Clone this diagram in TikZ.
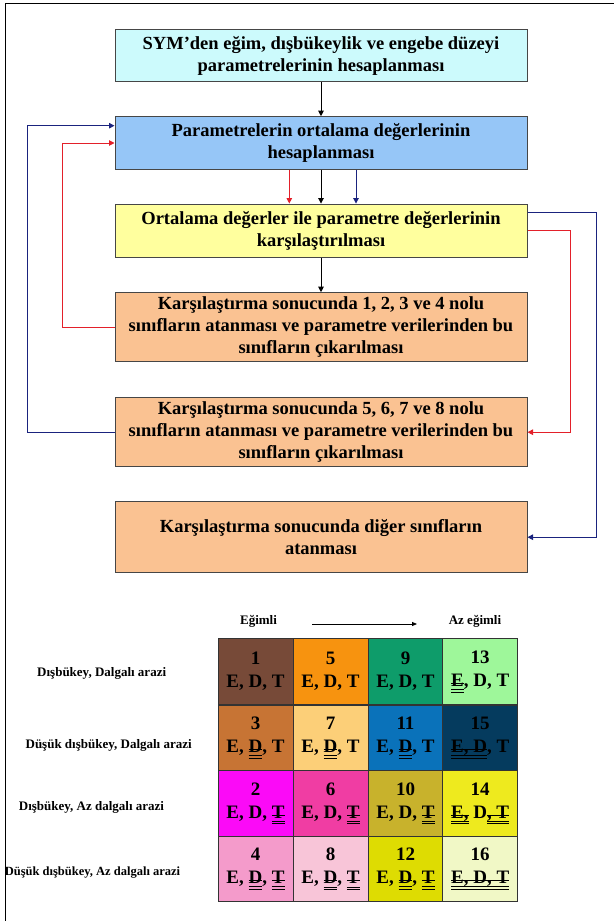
\documentclass[tikz,border=0pt]{standalone}
\usepackage{fontspec}
\setmainfont{Liberation Serif}
\usetikzlibrary{arrows.meta}
\newcommand{\sx}[1]{\setbox0\hbox{#1}\rlap{\rule[0.32ex]{\wd0}{0.09ex}}\rlap{\rule[-0.35ex]{\wd0}{0.06ex}}\rlap{\rule[-0.62ex]{\wd0}{0.06ex}}\box0\relax}
\definecolor{bcyan}{HTML}{CCFAFC}
\definecolor{bblue}{HTML}{96C6F7}
\definecolor{byel}{HTML}{FFFF9E}
\definecolor{bpeach}{HTML}{FAC292}
\definecolor{lnblue}{HTML}{1A237E}
\definecolor{lnred}{HTML}{E3202A}
\definecolor{k1}{HTML}{774A38}
\definecolor{k5}{HTML}{F7930F}
\definecolor{k9}{HTML}{0E9C6A}
\definecolor{k13}{HTML}{9EF79A}
\definecolor{k3}{HTML}{C77434}
\definecolor{k7}{HTML}{FCCF78}
\definecolor{k11}{HTML}{0A72BA}
\definecolor{k15}{HTML}{053B5E}
\definecolor{k2}{HTML}{FB0AF7}
\definecolor{k6}{HTML}{F03DA3}
\definecolor{k10}{HTML}{C8B22C}
\definecolor{k14}{HTML}{EEEA1E}
\definecolor{k4}{HTML}{F49BCB}
\definecolor{k8}{HTML}{F8C5D8}
\definecolor{k12}{HTML}{DEDC02}
\definecolor{k16}{HTML}{F1F8C6}
\begin{document}
\begin{tikzpicture}[x=1pt,y=-1pt,
  flow/.style={draw=gray!55!black, line width=1pt, minimum width=412pt, align=center,
    font=\fontsize{18.5}{22}\selectfont\bfseries, inner sep=0pt},
  cell/.style={draw=black!80, line width=0.8pt, minimum width=75pt, minimum height=65.8pt,
    align=center, font=\fontsize{19}{23}\selectfont\bfseries, inner sep=0pt},
  lbl/.style={font=\fontsize{13}{15}\selectfont\bfseries, inner sep=0pt},
  arr/.style={-{Triangle[length=5.5pt,width=5.5pt]}, line width=1pt}]
\useasboundingbox (0,0) rectangle (614,921);
\fill[white] (0,0) rectangle (614,921);
\draw[line width=1pt] (5.5,921) -- (5.5,3) -- (614,3);

% flow boxes
\node[flow, fill=bcyan, minimum height=52.4pt] (b1) at (321,55.5)
  {SYM’den eğim, dışbükeylik ve engebe düzeyi\\parametrelerinin hesaplanması};
\node[flow, fill=bblue, minimum height=52.6pt] (b2) at (321,143)
  {Parametrelerin ortalama değerlerinin\\hesaplanması};
\node[flow, fill=byel, minimum height=53.3pt] (b3) at (321,230.7)
  {Ortalama değerler ile parametre değerlerinin\\karşılaştırılması};
\node[flow, fill=bpeach, minimum height=69pt] (b4) at (321,327.2)
  {Karşılaştırma sonucunda 1, 2, 3 ve 4 nolu\\sınıfların atanması ve parametre verilerinden bu\\sınıfların çıkarılması};
\node[flow, fill=bpeach, minimum height=69pt] (b5) at (321,432.2)
  {Karşılaştırma sonucunda 5, 6, 7 ve 8 nolu\\sınıfların atanması ve parametre verilerinden bu\\sınıfların çıkarılması};
\node[flow, fill=bpeach, minimum height=71pt] (b6) at (321,537.2)
  {Karşılaştırma sonucunda diğer sınıfların\\atanması};

% straight arrows
\draw[arr] (b1) -- (b2);
\draw[arr] (b2) -- (b3);
\draw[arr] (b3) -- (b4);
\draw[arr, lnred] (b2.south -| 289.3,0) -- (b3.north -| 289.3,0);
\draw[arr, lnblue] (b2.south -| 356,0) -- (b3.north -| 356,0);

% feedback loops
\draw[arr, lnred] (b4.west) -- (62.7,327.2) -- (62.7,143) -- (b2.west);
\draw[arr, lnblue] (b5.west) -- (27.3,432.2) -- (27.3,125.7) -- (b2.west |- 0,125.7);
\draw[arr, lnred] (b3.east |- 0,230.7) -- (570.7,230.7) -- (570.7,432.2) -- (b5.east);
\draw[arr, lnblue] (b3.east |- 0,212.3) -- (596.7,212.3) -- (596.7,537.2) -- (b6.east);

% header
\node[lbl] (hl) at (258.5,621) {Eğimli};
\node[lbl] (hr) at (475,621) {Az eğimli};
\coordinate (ha) at (312,624);
\coordinate (hb) at (417,624);
\draw[-{Triangle[length=5pt,width=4pt]}, line width=0.8pt] (ha) -- (hb);

% row labels
\node[lbl] (r1) at (101.7,673) {Dışbükey, Dalgalı arazi};
\node[lbl] (r2) at (108.7,745) {Düşük dışbükey, Dalgalı arazi};
\node[lbl] (r3) at (91.5,807) {Dışbükey, Az dalgalı arazi};
\node[lbl, font=\fontsize{12.5}{15}\selectfont\bfseries] (r4) at (92.5,873) {Düşük dışbükey, Az dalgalı arazi};

% grid cells
\node[cell, fill=k1]  (c1)  at (255.5,671.65) {1\\E, D, T};
\node[cell, fill=k5]  (c5)  at (330.5,671.65) {5\\E, D, T};
\node[cell, fill=k9]  (c9)  at (405.5,671.65) {9\\E, D, T};
\node[cell, fill=k13] (c13) at (480.15,671.65) {13\\\sx{E}, D, T};
\node[cell, fill=k3]  (c3)  at (255.5,737.85) {3\\E, \sx{D}, T};
\node[cell, fill=k7]  (c7)  at (330.5,737.85) {7\\E, \sx{D}, T};
\node[cell, fill=k11] (c11) at (405.5,737.85) {11\\E, \sx{D}, T};
\node[cell, fill=k15] (c15) at (480.15,737.85) {15\\\sx{E, D}, T};
\node[cell, fill=k2]  (c2)  at (255.5,803.35) {2\\E, D, \sx{T}};
\node[cell, fill=k6]  (c6)  at (330.5,803.35) {6\\E, D, \sx{T}};
\node[cell, fill=k10] (c10) at (405.5,803.35) {10\\E, D, \sx{T}};
\node[cell, fill=k14] (c14) at (480.15,803.35) {14\\\sx{E,} D\sx{, T}};
\node[cell, fill=k4]  (c4)  at (255.5,868.85) {4\\E, \sx{D}, \sx{T}};
\node[cell, fill=k8]  (c8)  at (330.5,868.85) {8\\E, \sx{D}, \sx{T}};
\node[cell, fill=k12] (c12) at (405.5,868.85) {12\\E, \sx{D}, \sx{T}};
\node[cell, fill=k16] (c16) at (480.15,868.85) {16\\\sx{E, D, T}};
\end{tikzpicture}
\end{document}
